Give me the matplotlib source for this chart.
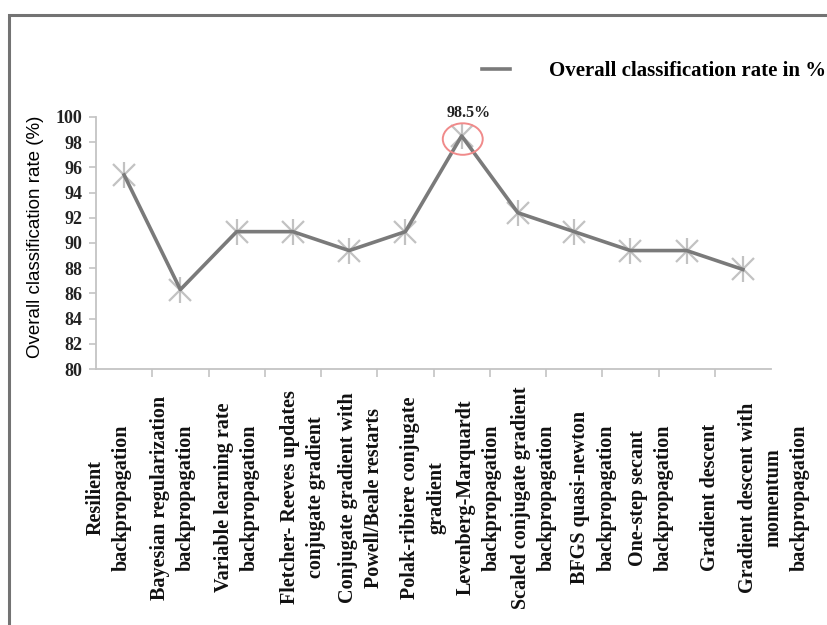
import matplotlib
matplotlib.use('Agg')
import matplotlib.pyplot as plt
import numpy as np
from matplotlib.patches import Ellipse, Rectangle

# training functions and their overall classification rate (%)
methods = ['Resilient\nbackpropagation',
           'Bayesian regularization\nbackpropagation',
           'Variable learning rate\nbackpropagation',
           'Fletcher- Reeves updates\nconjugate gradient',
           'Conjugate gradient with\nPowell/Beale restarts',
           'Polak-ribiere conjugate\ngradient',
           'Levenberg-Marquardt\nbackpropagation',
           'Scaled conjugate gradient\nbackpropagation',
           'BFGS quasi-newton\nbackpropagation',
           'One-step secant\nbackpropagation',
           'Gradient descent',
           'Gradient descent with\nmomentum\nbackpropagation']
rates = [95.4, 86.3, 90.9, 90.9, 89.4, 90.9, 98.5, 92.4, 90.9, 89.4, 89.4, 87.9]
yticks = list(range(80, 101, 2))
best_label = '98.5%'
legend_label = 'Overall classification rate in %'

# labels in the original drift a bit from their tick positions
label_nudge = [-0.28, -0.14, 0.0, 0.18, 0.21, 0.32, 0.30, 0.28, 0.34, 0.37, 0.41, 0.55]

serif = 'Liberation Serif'
x = np.arange(len(rates))

fig = plt.figure(figsize=(8.27, 6.25), dpi=100)
ax = fig.add_axes([96/827, 1-369/625, 675/827, 252/625])

ax.plot(x, rates, linestyle='none', marker='x', markersize=16, mew=1.6,
        color='#c2c2c2', zorder=2)
ax.plot(x, rates, linestyle='none', marker='|', markersize=19, mew=1.6,
        color='#c2c2c2', zorder=2)
line, = ax.plot(x, rates, color='#7a7a7a', linewidth=2.6, zorder=3,
                label=legend_label)

ax.set_xlim(-0.5, 11.5)
ax.set_ylim(80, 100)
ax.set_yticks(yticks)
ax.set_yticklabels([str(v) for v in yticks], fontfamily=serif,
                   fontweight='bold', fontsize=13, color='#222222')
ax.set_xticks(np.arange(0.5, 11, 1))
ax.set_xticklabels([])
ax.tick_params(axis='y', length=5, width=1.1, color='#bfbfbf', pad=5)
ax.tick_params(axis='x', length=6, width=1.1, color='#bfbfbf', direction='out')
for s in ['top', 'right']:
    ax.spines[s].set_visible(False)
for s in ['left', 'bottom']:
    ax.spines[s].set_color('#c4c4c4')
    ax.spines[s].set_linewidth(1.3)

for i, name in enumerate(methods):
    ax.text(x[i] + label_nudge[i], -0.51, name, transform=ax.get_xaxis_transform(),
            rotation=90, ha='center', va='center', multialignment='center',
            fontfamily=serif, fontweight='bold', fontsize=14.5,
            linespacing=1.4, color='#111111')

ax.set_ylabel('Overall classification rate (%)', fontfamily='Liberation Sans',
              fontsize=13.5)
ax.yaxis.set_label_coords(-0.077, 0.524)

# highlight the best method
best = int(np.argmax(rates))
ax.add_patch(Ellipse((best + 0.02, rates[best] - 0.25), 0.71, 2.5, fill=False,
                     edgecolor='#f08a8a', linewidth=1.4, zorder=4))
ax.annotate(best_label, (best, rates[best]), xytext=(7, 23),
            textcoords='offset pixels', ha='center', va='center',
            fontfamily=serif, fontweight='bold', fontsize=11.5, color='#222222')

leg = ax.legend(handles=[line], loc='center left', bbox_to_anchor=(482/827, 1-71/625),
                bbox_transform=fig.transFigure, frameon=False, borderpad=0,
                borderaxespad=0, handlelength=1.35, handletextpad=1.85,
                prop={'family': serif, 'weight': 'bold', 'size': 15})

# grey frame of the cropped screenshot
fig.add_artist(Rectangle((9/827, -0.1), 1.2, 1.1 - 14.5/625, transform=fig.transFigure,
                         fill=False, edgecolor='#737373', linewidth=2.2, clip_on=False))

fig.savefig('out.png', dpi=100)
